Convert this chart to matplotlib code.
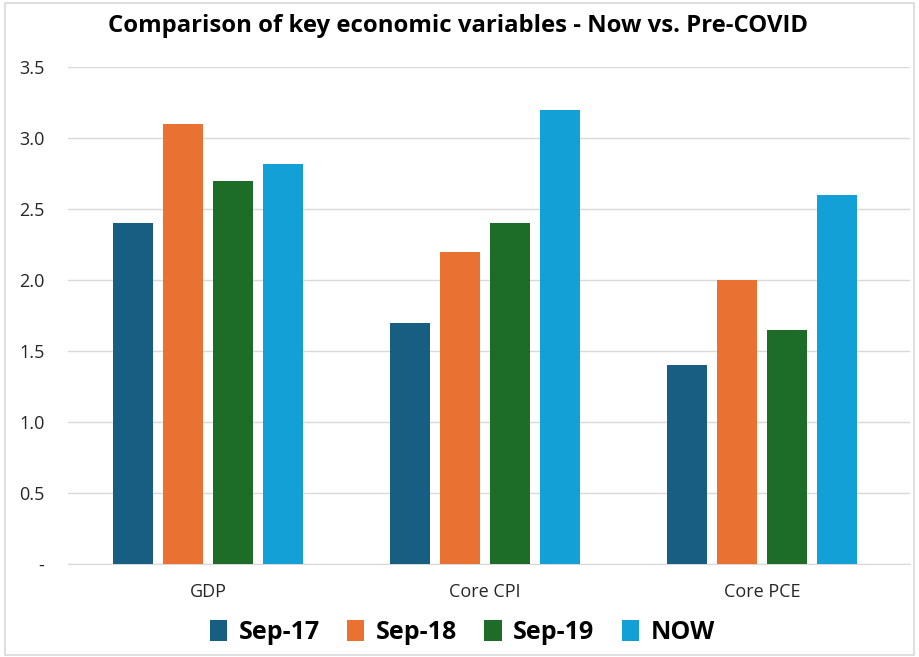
import matplotlib.pyplot as plt
import numpy as np
from matplotlib.patches import Rectangle

plt.rcParams['font.family'] = ['Open Sans', 'DejaVu Sans']

categories = ['GDP', 'Core CPI', 'Core PCE']
series = ['Sep-17', 'Sep-18', 'Sep-19', 'NOW']
sep17 = [2.4, 1.7, 1.4]
sep18 = [3.1, 2.2, 2.0]
sep19 = [2.7, 2.4, 1.65]
now = [2.82, 3.2, 2.6]
colors = ['#175e82', '#e97132', '#1d6c27', '#12a0d7']
yticks = [0, 0.5, 1.0, 1.5, 2.0, 2.5, 3.0, 3.5]
ylabels = ['-', '0.5', '1.0', '1.5', '2.0', '2.5', '3.0', '3.5']

fig = plt.figure(figsize=(9.19, 6.57), dpi=100)
ax = fig.add_axes([68 / 919, 0.1416, 842 / 919, 0.7565])

x = np.arange(len(categories))
w = 0.144
step = 0.18
for i, (name, vals) in enumerate(zip(series, [sep17, sep18, sep19, now])):
    ax.bar(x + (i - 1.5) * step, vals, width=w, color=colors[i], label=name, zorder=3)

ax.set_xlim(-0.505, 2.535)
ax.set_ylim(0, 3.5)
ax.set_yticks(yticks)
ax.set_yticklabels(ylabels)
ax.set_xticks(x)
ax.set_xticklabels(categories)
ax.grid(axis='y', color='#d9d9d9', linewidth=1, zorder=0)
for s in ['top', 'right', 'left']:
    ax.spines[s].set_visible(False)
ax.spines['bottom'].set_color('#d9d9d9')
ax.tick_params(axis='both', length=0, labelsize=13, colors='#262626')
ax.tick_params(axis='y', pad=17)
ax.tick_params(axis='x', pad=14)

fig.suptitle('Comparison of key economic variables - Now vs. Pre-COVID',
             fontsize=17.2, fontweight='bold', x=0.498, y=0.978)

fig.legend(loc='lower center', ncol=4, frameon=False, bbox_to_anchor=(0.503, -0.016),
           prop={'size': 18, 'weight': 'bold'}, handlelength=0.7, handleheight=0.9,
           handletextpad=0.45, columnspacing=1.1)

fig.patches.append(Rectangle((0.005, 0.003), 0.99, 0.993, transform=fig.transFigure,
                             fill=False, edgecolor='#d9d9d9', linewidth=1.2))

fig.savefig('out.png', dpi=100)
